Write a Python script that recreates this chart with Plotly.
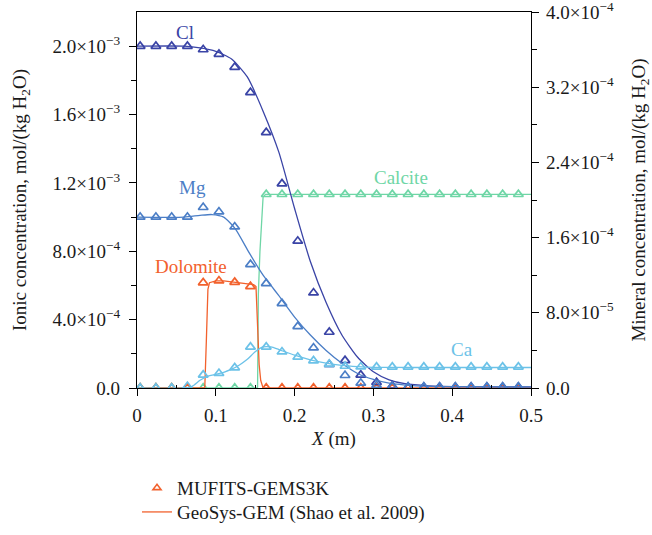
import plotly.graph_objects as go

# ---------------- data ----------------
x_markers = [0.004, 0.024, 0.044, 0.064, 0.084, 0.104, 0.124, 0.144, 0.164, 0.184,
             0.204, 0.224, 0.244, 0.264, 0.284, 0.304, 0.324, 0.344, 0.364, 0.384,
             0.404, 0.424, 0.444, 0.464, 0.484]

# MUFITS-GEMS3K (markers), ionic concentrations mol/(kg H2O)
cl_markers = [2.0e-3, 2.0e-3, 2.0e-3, 2.0e-3, 1.98e-3, 1.953e-3, 1.877e-3, 1.729e-3,
              1.495e-3, 1.195e-3, 8.6e-4, 5.57e-4, 3.27e-4, 1.61e-4, 7.6e-5, 3.3e-5,
              1.2e-5, 5e-6, 5e-6, 5e-6, 5e-6, 5e-6, 5e-6, 5e-6, 5e-6]
mg_markers = [1.0e-3, 1.0e-3, 1.0e-3, 1.0e-3, 1.057e-3, 1.031e-3, 9.43e-4, 7.23e-4,
              6.12e-4, 4.95e-4, 3.6e-4, 2.35e-4, 1.38e-4, 7.4e-5, 2.9e-5, 1.6e-5,
              9e-6, 6e-6, 6e-6, 6e-6, 6e-6, 6e-6, 6e-6, 6e-6, 6e-6]
ca_markers = [0.0, 0.0, 0.0, 1.0e-5, 7.6e-5, 8.6e-5, 1.19e-4, 2.4e-4, 2.4e-4, 2.12e-4,
              1.81e-4, 1.6e-4, 1.4e-4, 1.28e-4, 1.24e-4, 1.23e-4, 1.23e-4, 1.23e-4,
              1.23e-4, 1.23e-4, 1.23e-4, 1.23e-4, 1.23e-4, 1.23e-4, 1.23e-4]
# mineral concentrations mol/(kg H2O)
calcite_markers = [0, 0, 0, 0, 0, 0, 0, 0, 2.06e-4, 2.06e-4, 2.06e-4, 2.06e-4, 2.06e-4,
                   2.06e-4, 2.06e-4, 2.06e-4, 2.06e-4, 2.06e-4, 2.06e-4, 2.06e-4,
                   2.06e-4, 2.06e-4, 2.06e-4, 2.06e-4, 2.06e-4]
dolomite_markers = [0, 0, 0, 0, 1.12e-4, 1.14e-4, 1.125e-4, 1.08e-4, 0, 0, 0, 0, 0, 0,
                    0, 0, 0, 0, 0, 0, 0, 0, 0, 0, 0]

# GeoSys-GEM (Shao et al. 2009) (lines)
cl_line_x = [0, 0.06, 0.08, 0.10, 0.12, 0.14, 0.16, 0.18, 0.20, 0.22, 0.24, 0.26, 0.28,
             0.30, 0.32, 0.34, 0.37, 0.42, 0.50]
cl_line_y = [2.0e-3, 2.0e-3, 1.99e-3, 1.97e-3, 1.925e-3, 1.82e-3, 1.62e-3, 1.38e-3,
             1.05e-3, 7.4e-4, 5.0e-4, 3.1e-4, 1.8e-4, 9.5e-5, 4.8e-5, 2.5e-5, 1.3e-5,
             8e-6, 6e-6]
mg_line_x = [0, 0.06, 0.08, 0.095, 0.11, 0.125, 0.14, 0.155, 0.16, 0.17, 0.18, 0.20,
             0.22, 0.24, 0.26, 0.28, 0.30, 0.32, 0.35, 0.40, 0.50]
mg_line_y = [1.0e-3, 1.0e-3, 1.01e-3, 1.015e-3, 1.0e-3, 9.3e-4, 8.1e-4, 6.95e-4, 6.6e-4,
             6.0e-4, 5.4e-4, 4.15e-4, 3.1e-4, 2.2e-4, 1.45e-4, 8.5e-5, 5.0e-5, 2.8e-5,
             1.4e-5, 8e-6, 6e-6]
ca_line_x = [0, 0.06, 0.07, 0.08, 0.09, 0.10, 0.11, 0.12, 0.13, 0.14, 0.15, 0.16, 0.17,
             0.18, 0.20, 0.22, 0.24, 0.26, 0.28, 0.30, 0.35, 0.50]
ca_line_y = [0, 0, 1.0e-5, 4.5e-5, 7.0e-5, 8.0e-5, 9.2e-5, 1.1e-4, 1.35e-4, 1.68e-4,
             2.12e-4, 2.4e-4, 2.4e-4, 2.25e-4, 1.92e-4, 1.65e-4, 1.45e-4, 1.32e-4,
             1.25e-4, 1.21e-4, 1.2e-4, 1.2e-4]
calcite_line_x = [0, 0.153, 0.1535, 0.154, 0.156, 0.158, 0.160, 0.163, 0.50]
calcite_line_y = [0, 0, 5.0e-5, 1.0e-4, 1.45e-4, 1.8e-4, 2.03e-4, 2.06e-4, 2.06e-4]
dolomite_line_x = [0, 0.086, 0.088, 0.090, 0.092, 0.10, 0.11, 0.12, 0.13, 0.14, 0.148,
                   0.151, 0.153, 0.155, 0.157, 0.160, 0.50]
dolomite_line_y = [0, 0, 5.0e-5, 1.05e-4, 1.12e-4, 1.14e-4, 1.14e-4, 1.13e-4, 1.12e-4,
                   1.11e-4, 1.10e-4, 1.08e-4, 7.0e-5, 2.5e-5, 8e-6, 0, 0]

# axis ticks
x_ticks = [0, 0.1, 0.2, 0.3, 0.4, 0.5]
x_ticklabels = ["0", "0.1", "0.2", "0.3", "0.4", "0.5"]
x_minor = [0.05, 0.15, 0.25, 0.35, 0.45]
ion_ticks = [0, 4e-4, 8e-4, 1.2e-3, 1.6e-3, 2.0e-3]
ion_ticklabels = ["0.0", "4.0×10<sup>−4</sup>", "8.0×10<sup>−4</sup>",
                  "1.2×10<sup>−3</sup>", "1.6×10<sup>−3</sup>", "2.0×10<sup>−3</sup>"]
ion_minor = [2e-4, 6e-4, 1.0e-3, 1.4e-3, 1.8e-3]
min_ticks = [0, 8e-5, 1.6e-4, 2.4e-4, 3.2e-4, 4.0e-4]
min_ticklabels = ["0.0", "8.0×10<sup>−5</sup>", "1.6×10<sup>−4</sup>",
                  "2.4×10<sup>−4</sup>", "3.2×10<sup>−4</sup>", "4.0×10<sup>−4</sup>"]
min_minor = [4e-5, 1.2e-4, 2.0e-4, 2.8e-4, 3.6e-4]

# ---------------- style ----------------
C_CL = "#3a44a6"
C_MG = "#4b7ec6"
C_CA = "#6cc2e8"
C_CAL = "#6fd6a6"
C_DOL = "#f2612d"
FONT = "Liberation Serif"
MSIZE = 8.5
MLW = 1.7
LW = 1.3

fig = go.Figure()

def add_series(lx, ly, mx, my, color, yaxis):
    fig.add_trace(go.Scatter(x=lx, y=ly, mode="lines", yaxis=yaxis,
                             line=dict(color=color, width=LW, shape="spline", smoothing=0.6),
                             showlegend=False, hoverinfo="skip"))
    fig.add_trace(go.Scatter(x=mx, y=my, mode="markers", yaxis=yaxis,
                             marker=dict(symbol="triangle-up-open", size=MSIZE, color=color,
                                         line=dict(width=MLW, color=color)),
                             showlegend=False))

# minerals (primary axis, right side, drawn underneath)
fig.add_trace(go.Scatter(x=calcite_line_x, y=calcite_line_y, mode="lines", yaxis="y",
                         line=dict(color=C_CAL, width=LW), showlegend=False))
fig.add_trace(go.Scatter(x=x_markers, y=calcite_markers, mode="markers", yaxis="y",
                         marker=dict(symbol="triangle-up-open", size=MSIZE, color=C_CAL,
                                     line=dict(width=MLW, color=C_CAL)), showlegend=False))
fig.add_trace(go.Scatter(x=dolomite_line_x, y=dolomite_line_y, mode="lines", yaxis="y",
                         line=dict(color=C_DOL, width=LW), showlegend=False))
fig.add_trace(go.Scatter(x=x_markers, y=dolomite_markers, mode="markers", yaxis="y",
                         marker=dict(symbol="triangle-up-open", size=MSIZE, color=C_DOL,
                                     line=dict(width=MLW, color=C_DOL)), showlegend=False))

# ions (overlay axis, left side, drawn on top)
add_series(cl_line_x, cl_line_y, x_markers, cl_markers, C_CL, "y2")
add_series(mg_line_x, mg_line_y, x_markers, mg_markers, C_MG, "y2")
add_series(ca_line_x, ca_line_y, x_markers, ca_markers, C_CA, "y2")

# legend entries (two separate legends so each row can be placed exactly)
fig.add_trace(go.Scatter(x=[None], y=[None], mode="markers", name="MUFITS-GEMS3K",
                         legend="legend",
                         marker=dict(symbol="triangle-up-open", size=7, color=C_DOL,
                                     line=dict(width=1.6, color=C_DOL))))
fig.add_trace(go.Scatter(x=[None], y=[None], mode="lines",
                         name="GeoSys-GEM (Shao et al. 2009)", legend="legend2",
                         line=dict(color=C_DOL, width=1.3)))

# series labels
labels = [("Cl", 0.061, 2.08e-3, C_CL), ("Mg", 0.071, 1.175e-3, C_MG),
          ("Calcite", 0.335, 1.234e-3, C_CAL), ("Dolomite", 0.0685, 7.13e-4, C_DOL),
          ("Ca", 0.4125, 2.28e-4, C_CA)]
for txt, lx, ly, col in labels:
    fig.add_annotation(x=lx, y=ly, xref="x", yref="y2", text=txt, showarrow=False,
                       font=dict(family=FONT, size=19, color=col))

axis_common = dict(showline=True, linecolor="black", linewidth=1.3, ticks="outside",
                   tickcolor="black", tickwidth=1.3, showgrid=False, zeroline=False,
                   automargin=False, ticklabeloverflow="allow",
                   tickfont=dict(family=FONT, size=19, color="#1a1a1a"))

legend_common = dict(x=0.0, xanchor="left", yanchor="middle",
                     font=dict(family=FONT, size=19, color="#1a1a1a"),
                     bgcolor="rgba(0,0,0,0)", itemwidth=30)

fig.update_layout(
    width=652, height=535,
    margin=dict(l=137, r=121, t=12, b=147, autoexpand=False),
    paper_bgcolor="white", plot_bgcolor="white",
    font=dict(family=FONT, color="#1a1a1a"),
    xaxis=dict(range=[0, 0.5], tickvals=x_ticks, ticktext=x_ticklabels, ticklen=7,
               mirror=True, ticklabelstandoff=3,
               minor=dict(tickvals=x_minor, ticks="inside", ticklen=3, tickcolor="black",
                          tickwidth=1.2),
               title=dict(text="<i>X</i> (m)", font=dict(family=FONT, size=19), standoff=6),
               **axis_common),
    yaxis=dict(range=[0, 4.0e-4], side="right", tickvals=min_ticks, ticktext=min_ticklabels,
               ticklen=7, ticklabelstandoff=3,
               minor=dict(tickvals=min_minor, ticks="outside", ticklen=5, tickcolor="black",
                          tickwidth=1.2),
               title=dict(text="Mineral concentration, mol/(kg H<sub>2</sub>O)",
                          font=dict(family=FONT, size=19), standoff=20),
               **axis_common),
    yaxis2=dict(range=[0, 2.2e-3], side="left", overlaying="y", tickvals=ion_ticks,
                ticktext=ion_ticklabels, ticklen=7, ticklabelstandoff=5,
                minor=dict(tickvals=ion_minor, ticks="outside", ticklen=5, tickcolor="black",
                           tickwidth=1.2),
                title=dict(text="Ionic concentration, mol/(kg H<sub>2</sub>O)",
                           font=dict(family=FONT, size=19), standoff=20),
                **axis_common),
    legend=dict(y=-0.266, **legend_common),
    legend2=dict(y=-0.33, **legend_common),
    showlegend=True,
)

fig.write_html("out.html", config={"displayModeBar": False},
               post_script="document.body.style.margin='0';")
